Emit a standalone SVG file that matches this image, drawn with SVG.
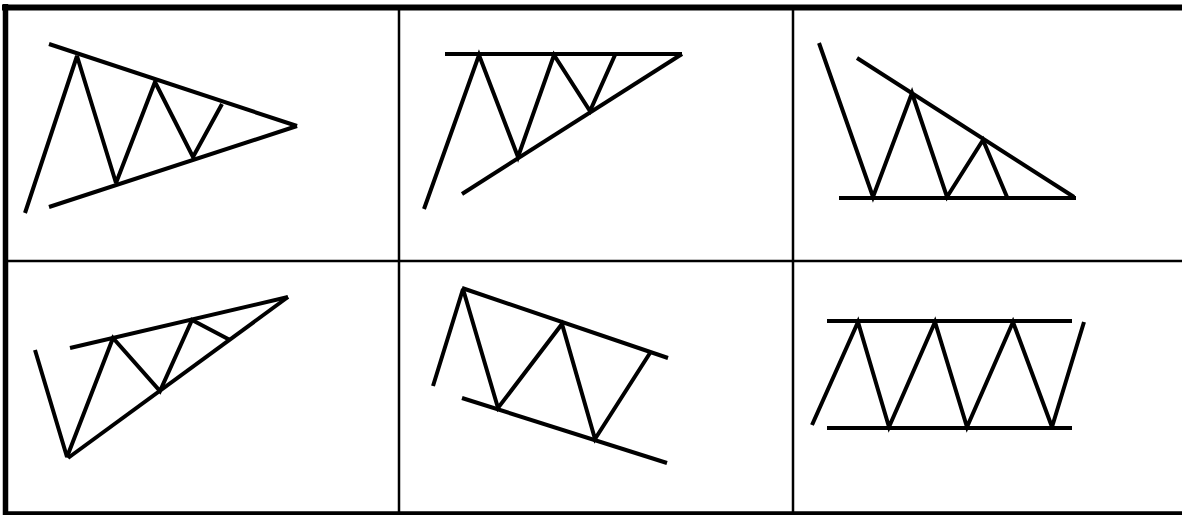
<svg xmlns="http://www.w3.org/2000/svg" width="1182" height="515" viewBox="0 0 1182 515">
<style>
.bg{fill:#fff}
.frame{stroke:#000;fill:none}
.ln{stroke:#000;stroke-width:4;fill:none;stroke-linecap:butt}
.zz{stroke:#000;stroke-width:4;fill:none;stroke-linejoin:miter;stroke-miterlimit:3}
</style>
<rect class="bg" x="0" y="0" width="1182" height="515"/>
<g id="grid">
<line class="frame" x1="2" y1="7.5" x2="1182" y2="7.5" stroke-width="6"/>
<line class="frame" x1="5.5" y1="4" x2="5.5" y2="515" stroke-width="5.5"/>
<line class="frame" x1="3" y1="513.2" x2="1182" y2="513.2" stroke-width="3.8"/>
<line class="frame" x1="5" y1="261" x2="1182" y2="261" stroke-width="2.5"/>
<line class="frame" x1="399" y1="8" x2="399" y2="513" stroke-width="2.5"/>
<line class="frame" x1="793" y1="8" x2="793" y2="513" stroke-width="2.5"/>
</g>
<g id="symmetric-triangle">
<line class="ln" x1="49" y1="44" x2="297" y2="126"/>
<line class="ln" x1="49" y1="207" x2="297" y2="126"/>
<polyline class="zz" points="25,213 77,56 116,183 155,82 193,157 222,104"/>
</g>
<g id="ascending-triangle">
<line class="ln" x1="445" y1="54" x2="682" y2="54"/>
<line class="ln" x1="462" y1="194" x2="682" y2="54"/>
<polyline class="zz" points="424,209 479,55 518,157 554,55 590,111 615,55"/>
</g>
<g id="descending-triangle">
<line class="ln" x1="839" y1="198" x2="1076" y2="198"/>
<line class="ln" x1="857" y1="58" x2="1074" y2="197"/>
<polyline class="zz" points="819,43 873,197 912,93 947,197 983,140 1007,197"/>
</g>
<g id="rising-wedge">
<line class="ln" x1="70" y1="348" x2="288" y2="297"/>
<line class="ln" x1="68" y1="458" x2="288" y2="297"/>
<polyline class="zz" points="35,350 67,457 113,338 160,391 192,320 230,340"/>
</g>
<g id="falling-channel">
<line class="ln" x1="462" y1="288" x2="668" y2="358"/>
<line class="ln" x1="462" y1="398" x2="667" y2="463"/>
<polyline class="zz" points="433,386 463,289 498,408 562,324 595,439 650,353"/>
</g>
<g id="rectangle">
<line class="ln" x1="827" y1="321" x2="1072" y2="321"/>
<line class="ln" x1="827" y1="428" x2="1072" y2="428"/>
<polyline class="zz" points="812,425 858,322 889,427 935,322 967,427 1013,322 1052,427 1084,322"/>
</g>
</svg>
